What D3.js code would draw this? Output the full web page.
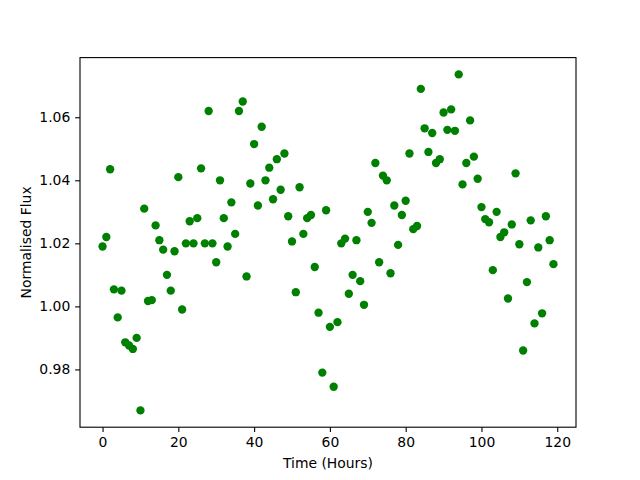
<!DOCTYPE html>
<html>
<head>
<meta charset="utf-8">
<script src="https://cdn.jsdelivr.net/npm/d3@7.9.0/dist/d3.min.js"></script>
<style>
  body { margin: 0; background: #fff; }
  svg { display: block; font-family: 'DejaVu Sans', sans-serif; }
</style>
</head>
<body>
<div id="chart"></div>
<script>
// Hours since start of observation
const hours = d3.range(0, 120);

// Normalised flux
const flux = [
  1.019, 1.022, 1.0435, 1.0054, 0.9965, 1.005, 0.9886, 0.9876, 0.9865, 0.990,
  0.967, 1.031, 1.0017, 1.002, 1.0257, 1.021, 1.018, 1.010, 1.005, 1.0175,
  1.041, 0.999, 1.020, 1.027, 1.020, 1.028, 1.0438, 1.020, 1.062, 1.020,
  1.014, 1.040, 1.028, 1.019, 1.033, 1.023, 1.062, 1.065, 1.0095, 1.039,
  1.0515, 1.032, 1.057, 1.040, 1.044, 1.034, 1.0467, 1.037, 1.0485, 1.0286,
  1.0206, 1.0045, 1.0378, 1.023, 1.028, 1.029, 1.0125, 0.998, 0.979, 1.0305,
  0.9935, 0.9745, 0.995, 1.020, 1.0215, 1.004, 1.010, 1.021, 1.008, 1.0005,
  1.030, 1.0265, 1.0455, 1.014, 1.0415, 1.040, 1.0105, 1.032, 1.0195, 1.029,
  1.0335, 1.0485, 1.0245, 1.0255, 1.069, 1.0565, 1.049, 1.055, 1.0455, 1.0467,
  1.0615, 1.056, 1.0625, 1.0557, 1.0736, 1.0387, 1.0455, 1.059, 1.0475, 1.0405,
  1.0315, 1.0277, 1.0267, 1.0115, 1.030, 1.022, 1.0235, 1.0025, 1.026, 1.0422,
  1.0197, 0.986, 1.0077, 1.0273, 0.9946, 1.0187, 0.9978, 1.0286, 1.021, 1.0134
];

const xTicks = [0, 20, 40, 60, 80, 100, 120];
const yTicks = [0.98, 1.00, 1.02, 1.04, 1.06];

const width = 640;
const height = 480;
const margin = { top: 57.6, right: 64, bottom: 52.8, left: 80 };

const points = hours.map((t, i) => ({ t, f: flux[i] }));

// matplotlib style 5% padding around the data
const pad = (lo, hi) => [lo - (hi - lo) * 0.05, hi + (hi - lo) * 0.05];
const [fMin, fMax] = d3.extent(flux);
const [tMin, tMax] = d3.extent(hours);

const x = d3.scaleLinear()
  .domain(pad(tMin, tMax))
  .range([margin.left, width - margin.right]);

const y = d3.scaleLinear()
  .domain(pad(fMin, fMax))
  .range([height - margin.bottom, margin.top]);

const svg = d3.select('#chart')
  .append('svg')
  .attr('width', width)
  .attr('height', height);

svg.append('g')
  .selectAll('circle')
  .data(points)
  .join('circle')
  .attr('cx', (d) => x(d.t))
  .attr('cy', (d) => y(d.f))
  .attr('r', 4.17)
  .attr('fill', '#008000');

const tickLen = 4.86;
const tickPad = 4.86;

const xAxis = svg.append('g')
  .attr('transform', `translate(0, ${height - margin.bottom})`)
  .call(d3.axisBottom(x).tickValues(xTicks).tickFormat(d3.format('d'))
    .tickSizeInner(tickLen).tickSizeOuter(0).tickPadding(tickPad));

const yAxis = svg.append('g')
  .attr('transform', `translate(${margin.left}, 0)`)
  .call(d3.axisLeft(y).tickValues(yTicks).tickFormat(d3.format('.2f'))
    .tickSizeInner(tickLen).tickSizeOuter(0).tickPadding(tickPad));

[xAxis, yAxis].forEach((g) => {
  g.select('.domain').remove();
  g.selectAll('line').attr('stroke', '#000').attr('stroke-width', 1.1);
  g.selectAll('text')
    .attr('fill', '#000')
    .attr('font-size', '13.9px')
    .attr('font-family', "'DejaVu Sans', sans-serif");
});

// frame
svg.append('rect')
  .attr('x', margin.left)
  .attr('y', margin.top)
  .attr('width', width - margin.left - margin.right)
  .attr('height', height - margin.top - margin.bottom)
  .attr('fill', 'none')
  .attr('stroke', '#000')
  .attr('stroke-width', 1.1);

svg.append('text')
  .attr('x', (margin.left + width - margin.right) / 2)
  .attr('y', 468)
  .attr('text-anchor', 'middle')
  .attr('font-size', '13.9px')
  .text('Time (Hours)');

svg.append('text')
  .attr('transform', `translate(31, ${(margin.top + height - margin.bottom) / 2}) rotate(-90)`)
  .attr('text-anchor', 'middle')
  .attr('font-size', '13.9px')
  .text('Normalised Flux');
</script>
</body>
</html>
